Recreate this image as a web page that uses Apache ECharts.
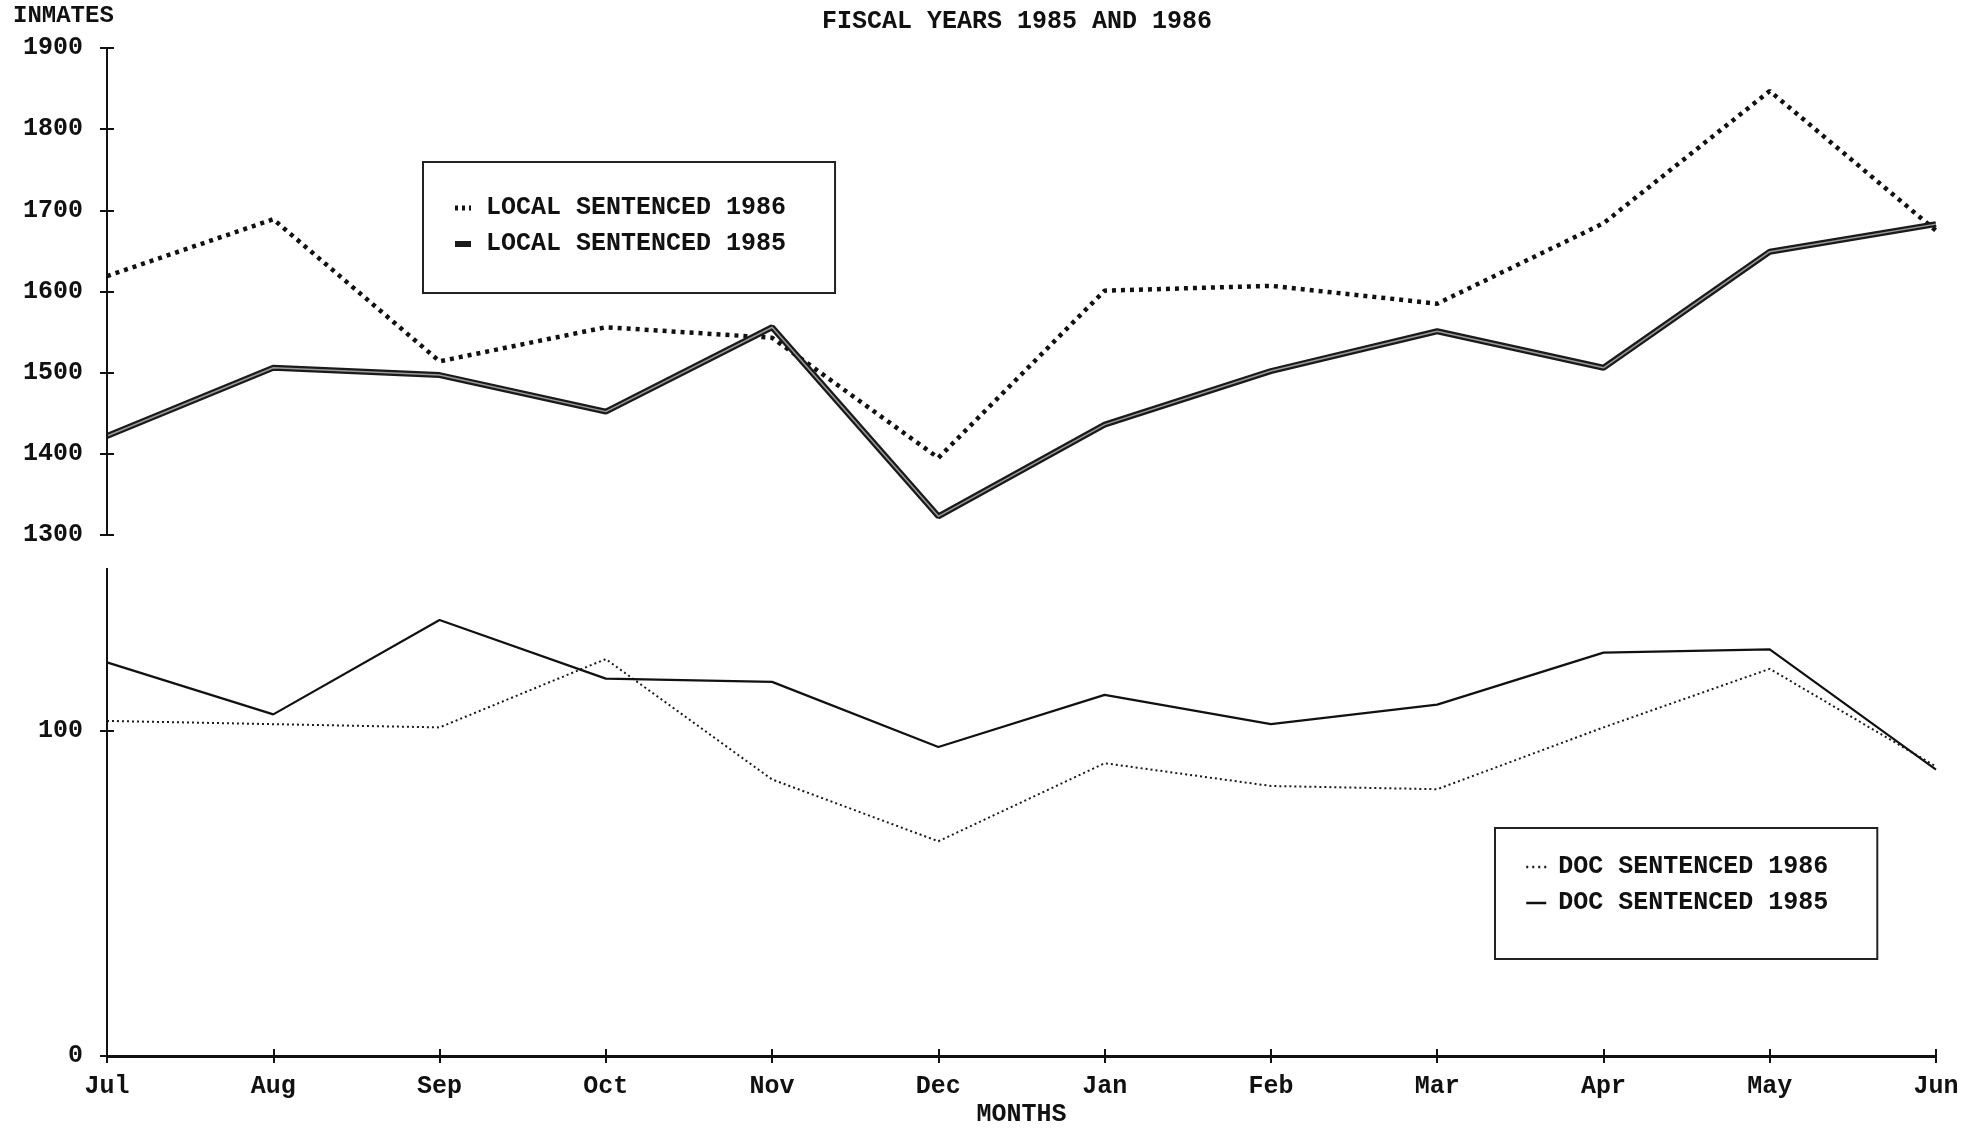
<!DOCTYPE html>
<html>
<head>
<meta charset="utf-8">
<script src="https://cdn.jsdelivr.net/npm/echarts@6/dist/echarts.min.js"></script>
<style>
html,body{margin:0;padding:0;background:#fff;}
#chart{width:1980px;height:1128px;}
</style>
</head>
<body>
<div id="chart"></div>
<script>
// ---- data ----
var months = ['Jul','Aug','Sep','Oct','Nov','Dec','Jan','Feb','Mar','Apr','May','Jun'];
var local1986 = [1619, 1689, 1514, 1556, 1543, 1395, 1601, 1607, 1585, 1684, 1847, 1675];
var local1985 = [1422, 1506, 1497, 1452, 1556, 1323, 1436, 1502, 1551, 1506, 1649, 1683];
var doc1986 = [103, 102, 101, 122, 85, 66, 90, 83, 82, 101, 119, 89];
var doc1985 = [121, 105, 134, 116, 115, 95, 111, 102, 108, 124, 125, 88];
var topTicks = [1300, 1400, 1500, 1600, 1700, 1800, 1900];
var bottomTicks = [0, 100];

var FONT = 'Liberation Mono';
var INK = '#111';
var txt = {fontFamily: FONT, fontWeight: 'bold', fontSize: 25, color: INK};
var plain = function (v) { return String(v); };

var TICK = 7; // half-length of the crossing ticks

var chart = echarts.init(document.getElementById('chart'), null, {renderer: 'canvas'});

var hiddenSymbol = {color: 'transparent', borderColor: 'transparent', borderWidth: 0, opacity: 0};
var tickStyle = {color: INK, width: 2};

// axis lines drawn as mark lines at the axis origin, so the axis ticks can cross them
function axisLineMarks(items, width) {
  return {
    silent: true, symbol: 'none', animation: false,
    label: {show: false},
    lineStyle: {color: INK, width: width, type: 'solid'},
    emphasis: {disabled: true},
    data: items
  };
}

var option = {
  backgroundColor: '#fff',
  animation: false,
  title: {
    text: 'FISCAL YEARS 1985 AND 1986',
    left: 1017, top: 9, textAlign: 'center', padding: 0,
    textStyle: txt
  },
  graphic: [{
    type: 'text', x: 13, y: 16,
    style: {text: 'INMATES', fontFamily: FONT, fontWeight: 'bold', fontSize: 24,
            fill: INK, textVerticalAlign: 'middle', textAlign: 'left'}
  }],
  legend: [{
    data: [
      {name: 'LOCAL SENTENCED 1986', lineStyle: {width: 5, type: [3, 4]}},
      {name: 'LOCAL SENTENCED 1985', lineStyle: {width: 6, type: 'solid'}}
    ],
    orient: 'vertical', left: 423, top: 162,
    padding: [33, 49, 36, 29], itemGap: 10, itemWidth: 16, itemHeight: 14,
    borderColor: '#222', borderWidth: 2, selectedMode: false,
    itemStyle: hiddenSymbol,
    textStyle: Object.assign({lineHeight: 26, padding: [0, 0, 0, 10]}, txt)
  }, {
    data: [
      {name: 'DOC SENTENCED 1986', lineStyle: {width: 2.5, type: [2, 4]}},
      {name: 'DOC SENTENCED 1985', lineStyle: {width: 2.5, type: 'solid'}}
    ],
    orient: 'vertical', left: 1495, top: 828,
    padding: [26, 49, 43, 30], itemGap: 10, itemWidth: 20, itemHeight: 14,
    borderColor: '#222', borderWidth: 2, selectedMode: false,
    itemStyle: hiddenSymbol,
    textStyle: Object.assign({lineHeight: 26, padding: [0, 0, 0, 7]}, txt)
  }],
  grid: [
    {left: 107, right: 44, top: 48, height: 487},
    {left: 107, right: 44, top: 568, height: 488}
  ],
  xAxis: [
    {gridIndex: 0, type: 'category', data: months, boundaryGap: false, show: false},
    {gridIndex: 1, type: 'category', data: months, boundaryGap: false, position: 'bottom',
     offset: -TICK,
     axisLine: {show: false, onZero: false},
     axisTick: {show: true, inside: false, length: 2 * TICK, lineStyle: tickStyle},
     axisLabel: Object.assign({margin: 18 + TICK}, txt),
     name: 'MONTHS', nameLocation: 'middle', nameGap: 46 + TICK, nameTextStyle: txt,
     splitLine: {show: false}}
  ],
  yAxis: [
    {gridIndex: 0, type: 'value', min: 1300, max: 1900, interval: 100, position: 'left',
     offset: -TICK,
     axisLine: {show: false},
     axisTick: {show: true, inside: false, length: 2 * TICK, customValues: topTicks, lineStyle: tickStyle},
     axisLabel: Object.assign({margin: 24 + TICK, customValues: topTicks, formatter: plain}, txt),
     splitLine: {show: false}},
    {gridIndex: 1, type: 'value', min: 0, max: 150, position: 'left',
     offset: -TICK,
     axisLine: {show: false},
     axisTick: {show: true, inside: false, length: 2 * TICK, customValues: bottomTicks, lineStyle: tickStyle},
     axisLabel: Object.assign({margin: 24 + TICK, customValues: bottomTicks, formatter: plain}, txt),
     splitLine: {show: false}}
  ],
  series: [
    {name: 'LOCAL SENTENCED 1986', type: 'line', xAxisIndex: 0, yAxisIndex: 0,
     data: local1986, symbol: 'none', color: INK,
     lineStyle: {color: INK, width: 4.5, type: [4, 5], cap: 'butt'}},
    {name: 'LOCAL SENTENCED 1985', type: 'line', xAxisIndex: 0, yAxisIndex: 0,
     data: local1985, symbol: 'none', color: '#1a1a1a',
     lineStyle: {color: '#1a1a1a', width: 6},
     markLine: axisLineMarks([{xAxis: 0}], 2)},
    {name: 'LOCAL SENTENCED 1985 core', type: 'line', xAxisIndex: 0, yAxisIndex: 0,
     data: local1985, symbol: 'none', silent: true, color: '#9a9a9a',
     lineStyle: {color: '#9a9a9a', width: 1.5}},
    {name: 'DOC SENTENCED 1986', type: 'line', xAxisIndex: 1, yAxisIndex: 1,
     data: doc1986, symbol: 'none', color: INK,
     lineStyle: {color: '#1a1a1a', width: 2, type: [2, 3]},
     markLine: axisLineMarks([{yAxis: 0}], 3)},
    {name: 'DOC SENTENCED 1985', type: 'line', xAxisIndex: 1, yAxisIndex: 1,
     data: doc1985, symbol: 'none', color: INK,
     lineStyle: {color: INK, width: 2.2},
     markLine: axisLineMarks([{xAxis: 0}], 2)}
  ]
};
chart.setOption(option);
</script>
</body>
</html>
